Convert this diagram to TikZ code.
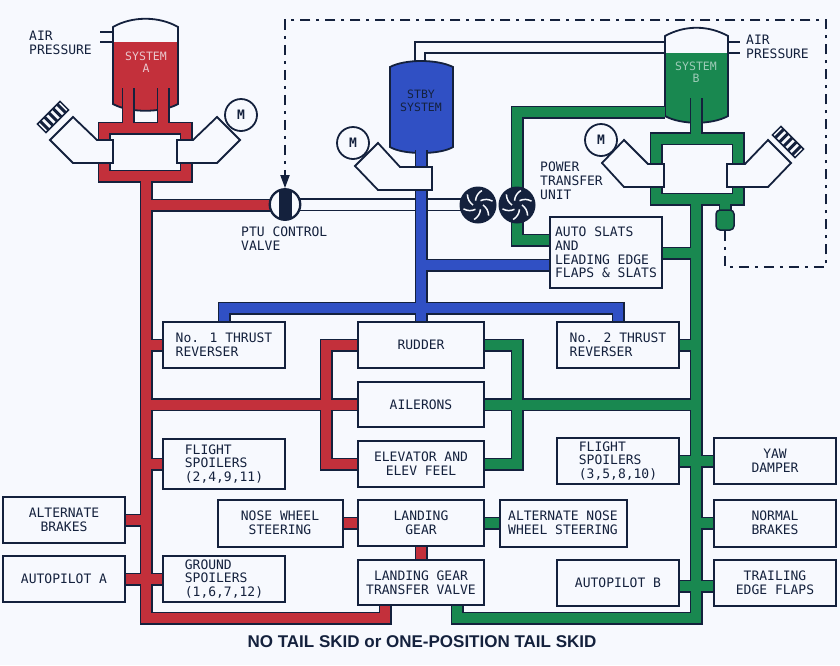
\documentclass[tikz,border=0pt]{standalone}
\usepackage{fontspec}
\setmainfont{DejaVu Sans Mono}
\newfontfamily\titlefont{Liberation Sans}
\usetikzlibrary{arrows.meta}
\definecolor{ink}{HTML}{14213D}
\definecolor{paper}{HTML}{F7F9FE}
\definecolor{sysA}{HTML}{C3303B}
\definecolor{sysB}{HTML}{198850}
\definecolor{stby}{HTML}{3050C4}
% outline first, then fill, so that joints merge
\newcommand\hydline[2]{\draw[pipeout] #2; \draw[pipein, draw=#1] #2;}

\begin{document}
\begin{tikzpicture}[x=1pt, y=-1pt,
  pipeout/.style={draw=ink, line width=13pt, line join=miter},
  pipein/.style={line width=10pt, line join=miter},
  box/.style={draw=ink, line width=2pt, fill=paper, inner sep=0pt, text=ink,
    font=\fontsize{13}{13.8}\selectfont, align=center},
  lbl/.style={text=ink, font=\fontsize{13}{13.8}\selectfont, align=left, inner sep=0pt},
  pumpbody/.style={draw=ink, line width=1.8pt, fill=paper, line join=miter},
  motor/.style={circle, draw=ink, line width=1.8pt, fill=paper, minimum size=32pt,
    inner sep=0pt, text=ink, font=\bfseries\fontsize{13}{13}\selectfont},
  restext/.style={font=\fontsize{11.5}{12.5}\selectfont, align=center, inner sep=0pt},
  ctrl/.style={draw=ink, line width=1.8pt, dash pattern=on 10pt off 6pt on 3pt off 6pt}
]
\useasboundingbox[fill=paper] (0,0) rectangle (840,665);

% reservoirs
\draw[ink, line width=1.8pt] (100,32) -- (113,32) (100,42) -- (113,42);
\fill[paper] (113,42) -- (113,27) .. controls (132,16) and (159,16) .. (178,27) -- (178,104)
  .. controls (162,113) and (129,113) .. (113,104) -- cycle;
\begin{scope}
  \clip (113,42) -- (113,27) -- (178,27) -- (178,104) .. controls (162,113) and (129,113) .. (113,104) -- cycle;
  \fill[sysA] (100,42) rectangle (190,120);
\end{scope}
\draw[ink, line width=1.8pt] (113,42) -- (113,27) .. controls (132,16) and (159,16) .. (178,27) -- (178,104)
  .. controls (162,113) and (129,113) .. (113,104) -- cycle;

\draw[ink, line width=1.8pt, fill=stby] (390,67) .. controls (405,59) and (437,59) .. (453,67) -- (453,147)
  .. controls (440,155) and (403,155) .. (390,147) -- cycle;
\draw[ink, line width=1.8pt] (415,62) -- (415,42) -- (665,42) (425,62) -- (425,53) -- (665,53);

\draw[ink, line width=1.8pt] (728,42) -- (740,42) (728,53) -- (740,53);
\begin{scope}
  \clip (665,53) -- (728,53) -- (728,116) .. controls (712,125) and (681,125) .. (665,116) -- cycle;
  \fill[sysB] (660,53) rectangle (735,130);
\end{scope}
\draw[ink, line width=1.8pt] (665,53) -- (665,36) .. controls (685,25) and (708,25) .. (728,36) -- (728,116)
  .. controls (712,125) and (681,125) .. (665,116) -- cycle;

% PTU control valve line
\hydline{paper}{(296,204.5) -- (462,204.5)}

% system A
\hydline{sysA}{(104,128) rectangle (186,176) (128,88) -- (128,128) (163,88) -- (163,128)
  (146,176) -- (146,618) -- (385,618) -- (385,605)
  (146,205) -- (272,205)
  (146,345) -- (163,345) (146,404.5) -- (358,404.5)
  (358,345) -- (326,345) -- (326,464) -- (358,464)
  (146,464) -- (163,464) (125,520) -- (146,520) (125,579) -- (163,579)
  (342,523) -- (358,523) (421,546) -- (421,560)}

% standby system
\hydline{stby}{(421,150) -- (421,322) (224,322) -- (224,308) -- (618,308) -- (618,322)
  (421,265) -- (550,265)}

% system B
\hydline{sysB}{(656,138.5) rectangle (738,199) (696,98) -- (696,138.5)
  (517,190) -- (517,112) -- (665,112)
  (517,220) -- (517,240) -- (550,240)
  (696,199) -- (696,618) -- (457,618) -- (457,605)
  (662,253) -- (696,253) (679,345) -- (696,345)
  (484,345) -- (517,345) -- (517,464) -- (484,464)
  (484,404.5) -- (696,404.5) (679,461) -- (714,461)
  (696,523) -- (714,523) (484,523) -- (500,523)
  (679,586) -- (714,586) (725,199) -- (725,212)}

% pumps
\draw[pumpbody] (50,140) -- (73,117) -- (97,140) -- (113,140) -- (113,163) -- (73,163) -- cycle;
\draw[pumpbody] (177,140) -- (193,140) -- (217,117) -- (240,140) -- (217,163) -- (177,163) -- cycle;
\draw[pumpbody] (355,166) -- (378,143) -- (400,167) -- (432,167) -- (432,190) -- (378,190) -- cycle;
\draw[pumpbody] (602,163) -- (624,140) -- (648,164) -- (664,164) -- (664,187) -- (624,187) -- cycle;
\draw[pumpbody] (727,164) -- (745,164) -- (768,140) -- (791,163) -- (768,187) -- (727,187) -- cycle;
\foreach \gx/\gy/\ga in {53/117/45, 788/142/-45} {
  \begin{scope}[shift={(\gx,\gy)}, rotate=\ga]
    \draw[ink, line width=1.5pt, fill=paper] (-16,-6) rectangle (16,6);
    \foreach \k in {-12,-6,0,6,12}
      \fill[ink] (\k-1.5,-6) rectangle (\k+1.5,6);
  \end{scope}
}

\node[motor] (motA) at (241,115) {M};
\node[motor] (motS) at (353,143) {M};
\node[motor] (motB) at (601,140) {M};

% valves
\node[circle, draw=ink, line width=1.8pt, fill=paper, minimum size=31pt, inner sep=0pt] (ptuv) at (285,204.5) {};
\begin{scope}
  \clip (285,204.5) circle (15);
  \fill[ink] (279,185) rectangle (292,224);
\end{scope}
\draw[ink, line width=1.8pt] (285,204.5) circle (15);
\node[draw=ink, line width=1.5pt, fill=sysB, rounded corners=4pt, minimum width=18pt,
  minimum height=20pt, inner sep=0pt] (gval) at (725,220) {};
\draw[ctrl, -{Triangle[width=9pt, length=13pt]}] (gval.south) -- (725,267) -- (826,267)
  -- (826,20) -- (285,20) -- (ptuv.north);

% power transfer unit
\foreach \n/\cx in {ptuL/478, ptuR/517} {
  \node[circle, fill=ink, minimum size=37pt, inner sep=0pt] (\n) at (\cx,205) {};
  \foreach \a in {0,60,...,300}
    \draw[paper, line width=1.5pt] ([shift={(\a:5)}]\cx,205) to[bend left=25] ([shift={(\a+45:15)}]\cx,205);
}

% reservoir labels
\node[restext, text=paper!75!sysA] (resA) at (146,62) {SYSTEM\\A};
\node[restext, text=ink] (resS) at (421,101) {STBY\\SYSTEM};
\node[restext, text=paper!60!sysB] (resB) at (696,72) {SYSTEM\\B};
\node[lbl, anchor=north west] (airA) at (29,31) {AIR\\PRESSURE};
\node[lbl, anchor=north west] (airB) at (746,35) {AIR\\PRESSURE};
\node[lbl, anchor=north west] (ptul) at (540,162) {POWER\\TRANSFER\\UNIT};
\node[lbl, anchor=north west] (ptuvl) at (241,227) {PTU CONTROL\\VALVE};

% users
\node[box, align=left, minimum width=112pt, minimum height=71pt] (slats) at (606,252.5) {AUTO SLATS\\AND\\LEADING EDGE\\FLAPS \& SLATS};
\node[box, align=left, minimum width=122pt, minimum height=46pt] (rev1) at (224,345) {No. 1 THRUST\\REVERSER};
\node[box, minimum width=126pt, minimum height=46pt] (rudder) at (421,345) {RUDDER};
\node[box, align=left, minimum width=122pt, minimum height=46pt] (rev2) at (618,345) {No. 2 THRUST\\REVERSER};
\node[box, minimum width=126pt, minimum height=45pt] (ail) at (421,404.5) {AILERONS};
\node[box, align=left, minimum width=122pt, minimum height=50pt] (fspA) at (224,464) {FLIGHT\\SPOILERS\\(2,4,9,11)};
\node[box, minimum width=126pt, minimum height=46pt] (elev) at (421,464) {ELEVATOR AND\\ELEV FEEL};
\node[box, align=left, minimum width=122pt, minimum height=46pt] (fspB) at (618,461) {FLIGHT\\SPOILERS\\(3,5,8,10)};
\node[box, minimum width=122pt, minimum height=46pt] (yaw) at (775,461) {YAW\\DAMPER};
\node[box, minimum width=122pt, minimum height=46pt] (altbrk) at (64,520) {ALTERNATE\\BRAKES};
\node[box, minimum width=125pt, minimum height=47pt] (nws) at (280,523) {NOSE WHEEL\\STEERING};
\node[box, minimum width=126pt, minimum height=46pt] (gear) at (421,523) {LANDING\\GEAR};
\node[box, minimum width=127pt, minimum height=47pt] (altnws) at (563,523) {ALTERNATE NOSE\\WHEEL STEERING};
\node[box, minimum width=122pt, minimum height=47pt] (nbrk) at (775,523) {NORMAL\\BRAKES};
\node[box, minimum width=122pt, minimum height=46pt] (apA) at (64,579) {AUTOPILOT A};
\node[box, align=left, minimum width=122pt, minimum height=46pt] (gspA) at (224,579) {GROUND\\SPOILERS\\(1,6,7,12)};
\node[box, minimum width=126pt, minimum height=45pt] (xfer) at (421,582.5) {LANDING GEAR\\TRANSFER VALVE};
\node[box, minimum width=122pt, minimum height=46pt] (apB) at (618,583) {AUTOPILOT B};
\node[box, minimum width=122pt, minimum height=46pt] (tef) at (775,583) {TRAILING\\EDGE FLAPS};

\node[text=ink, font=\titlefont\bfseries\fontsize{17}{20}\selectfont] (title) at (422,642)
  {NO TAIL SKID or ONE-POSITION TAIL SKID};
\end{tikzpicture}
\end{document}
